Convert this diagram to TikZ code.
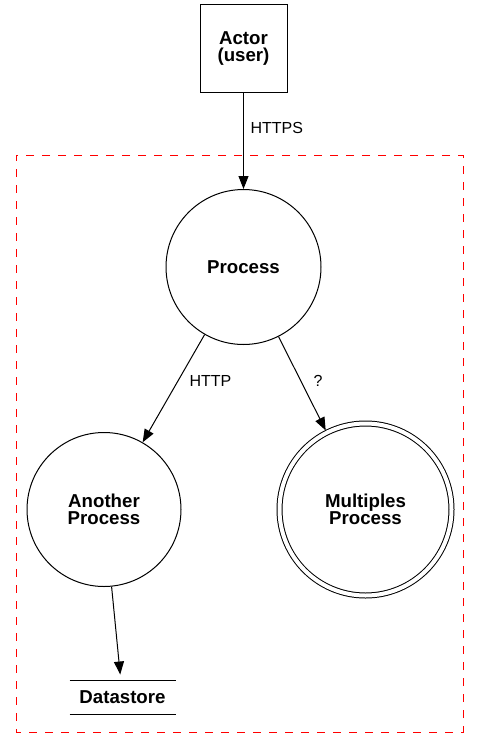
\documentclass[tikz,border=0pt]{standalone}
\usepackage{fontspec}
\setmainfont{Liberation Sans}
\usetikzlibrary{arrows.meta}
\begin{document}
\begin{tikzpicture}[x=0.75pt,y=-0.75pt,line width=0.75pt,
    main/.style = {draw, circle, align=center, inner sep=0pt, font=\bfseries\fontsize{14}{12.75}\selectfont},
    actor/.style = {draw, rectangle, minimum size=65.25pt, align=center, font=\bfseries\fontsize{14}{12.75}\selectfont},
    store/.style = {minimum width=78.75pt, minimum height=24.75pt, inner sep=0pt, font=\bfseries\fontsize{14}{12.75}\selectfont},
    lbl/.style = {inner sep=0pt, font=\fontsize{12}{14}\selectfont},
    flow/.style = {-{Triangle[length=9.75pt,width=7.5pt]}}]
    \useasboundingbox (0,0) rectangle (480,749);
    \draw[red, dash pattern=on 6pt off 6pt, dash phase=1.5pt] (16,155) rectangle (463,732);

    \node[actor] (a) at (243.5,48.5) {Actor\\(user)};
    \node[main, minimum size=116.25pt] (1) at (243.5,267) {Process};
    \node[main, minimum size=115.5pt] (2) at (104,509.5) {Another\\Process};
    \node[main, minimum size=129pt, double, double distance=3pt, outer sep=1.9pt] (3) at (365.5,509.5) {Multiples\\Process};
    \node[store] (ds) at (122.5,697.5) {Datastore};
    \draw (ds.north west) -- (ds.north east) (ds.south west) -- (ds.south east);

    \draw[flow] (a) -- (1);
    \draw[flow] (1) -- (2);
    \draw[flow] (1) -- (3);
    \draw[flow, shorten >=4.5pt] (2) -- (ds);

    \node[lbl, anchor=west] (l1) at (250,128) {HTTPS};
    \node[lbl, anchor=west] (l2) at (189,381) {HTTP};
    \node[lbl] (l3) at (318,381) {?};
\end{tikzpicture}
\end{document}
